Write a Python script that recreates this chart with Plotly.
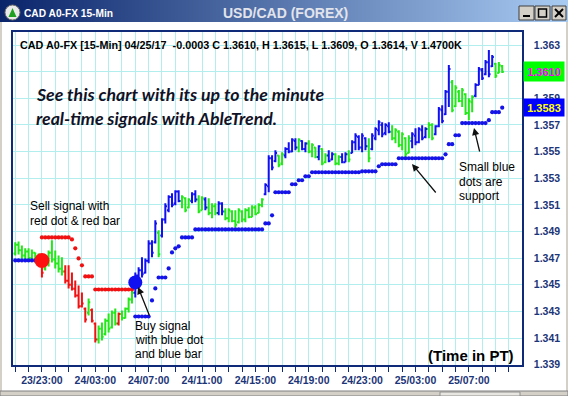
import plotly.graph_objects as go
import pandas as pd

# ---------------- data ----------------
FIRST_BAR = "2017-04-23 21:00"
BAR_MINUTES = 15
SYMBOL = "CAD A0-FX"
PERIOD = "15-Min"
PAIR_TITLE = "USD/CAD (FOREX)"
QUOTE_DATE = "04/25/17"
CHANGE = "-0.0003"
VOLUME = "1.4700K"
X_RANGE = ["2017-04-23 20:50", "2017-04-25 10:59"]
X_TICK0 = "2017-04-23 23:00"
Y_RANGE = [1.33898, 1.36398]
Y_TICK0 = 1.339
Y_TICK_STEP = 0.002
Y_HIDDEN_LABELS = [1.361]   # covered by the last-price box in the original

# signal colour of every bar: G = green, R = red (sell), B = blue (buy)
COLOR_CODE = ("GGGGGGGG" "R" "GGGGGG" "RRRRRRR" "G" "RR" "GGGGGG" "R" "GGGG"
              "BBBBBBB" "G" "BBBBBB" "GGG" "BB" "GG" "B" "GGG" "BB" "GGGGGGGGGGGG"
              "BBBB" "GG" "BBBB" "G" "BB" "GGG" "B" "GG" "BB" "GG" "BB" "G" "BBBBB" "G"
              "BBBBBB" "GGGGGG" "BBBBB" "GG" "BBBBB" "GGGGGGG" "BBBBBB" "GGG")

OPEN = [1.34735, 1.34800, 1.34760, 1.34720, 1.34750, 1.34700, 1.34740, 1.34690, 1.34700, 1.34620,
        1.34700, 1.34740, 1.34690, 1.34660, 1.34620, 1.34600, 1.34530, 1.34500, 1.34470, 1.34420,
        1.34340, 1.34320, 1.34290, 1.34310, 1.34210, 1.34090, 1.34170, 1.34130, 1.34230, 1.34180,
        1.34290, 1.34210, 1.34280, 1.34250, 1.34320, 1.34390, 1.34440, 1.34570, 1.34610, 1.34590,
        1.34680, 1.34810, 1.34820, 1.34890, 1.34870, 1.34990, 1.35060, 1.35160, 1.35110, 1.35200,
        1.35130, 1.35150, 1.35080, 1.35130, 1.35180, 1.35140, 1.35060, 1.35140, 1.35080, 1.35040,
        1.35090, 1.35040, 1.35110, 1.35050, 1.35000, 1.35050, 1.34980, 1.34970, 1.35050, 1.34990,
        1.35060, 1.35010, 1.35080, 1.35040, 1.35100, 1.35180, 1.35240, 1.35450, 1.35430, 1.35470,
        1.35410, 1.35470, 1.35520, 1.35500, 1.35580, 1.35530, 1.35580, 1.35520, 1.35560, 1.35500,
        1.35530, 1.35460, 1.35520, 1.35420, 1.35470, 1.35440, 1.35480, 1.35410, 1.35460, 1.35420,
        1.35480, 1.35490, 1.35570, 1.35610, 1.35530, 1.35600, 1.35540, 1.35520, 1.35600, 1.35660,
        1.35700, 1.35640, 1.35690, 1.35650, 1.35600, 1.35650, 1.35550, 1.35600, 1.35490, 1.35580,
        1.35620, 1.35570, 1.35660, 1.35610, 1.35670, 1.35700, 1.35630, 1.35690, 1.35810, 1.35780,
        1.35950, 1.36020, 1.35840, 1.35950, 1.35880, 1.35930, 1.35790, 1.35870, 1.35920, 1.36000,
        1.36110, 1.36080, 1.36170, 1.36140, 1.36160, 1.36090, 1.36140]

HIGH = [1.34819, 1.34826, 1.34796, 1.34774, 1.34774, 1.34766, 1.34743, 1.34736, 1.34706, 1.34728,
        1.34758, 1.34834, 1.34758, 1.34721, 1.34706, 1.34646, 1.34646, 1.34593, 1.34533, 1.34495,
        1.34443, 1.34330, 1.34397, 1.34322, 1.34217, 1.34194, 1.34217, 1.34247, 1.34285, 1.34307,
        1.34322, 1.34292, 1.34307, 1.34330, 1.34405, 1.34458, 1.34593, 1.34631, 1.34706, 1.34698,
        1.34834, 1.34834, 1.34984, 1.34909, 1.34999, 1.35112, 1.35172, 1.35187, 1.35210, 1.35210,
        1.35172, 1.35157, 1.35149, 1.35195, 1.35210, 1.35172, 1.35164, 1.35157, 1.35149, 1.35112,
        1.35112, 1.35127, 1.35119, 1.35074, 1.35074, 1.35059, 1.35059, 1.35074, 1.35059, 1.35074,
        1.35082, 1.35097, 1.35097, 1.35112, 1.35149, 1.35262, 1.35473, 1.35473, 1.35510, 1.35473,
        1.35495, 1.35533, 1.35571, 1.35601, 1.35601, 1.35601, 1.35586, 1.35571, 1.35586, 1.35563,
        1.35533, 1.35548, 1.35525, 1.35488, 1.35510, 1.35495, 1.35488, 1.35473, 1.35488, 1.35495,
        1.35510, 1.35586, 1.35638, 1.35623, 1.35638, 1.35608, 1.35601, 1.35638, 1.35683, 1.35736,
        1.35721, 1.35713, 1.35721, 1.35698, 1.35676, 1.35661, 1.35646, 1.35608, 1.35623, 1.35646,
        1.35676, 1.35683, 1.35698, 1.35683, 1.35721, 1.35713, 1.35698, 1.35834, 1.35849, 1.35962,
        1.36150, 1.36037, 1.35999, 1.35962, 1.35977, 1.35939, 1.35901, 1.35924, 1.36014, 1.36135,
        1.36127, 1.36187, 1.36262, 1.36225, 1.36165, 1.36172, 1.36150]

LOW = [1.34721, 1.34728, 1.34698, 1.34676, 1.34683, 1.34683, 1.34668, 1.34668, 1.34555, 1.34608,
       1.34638, 1.34668, 1.34623, 1.34593, 1.34570, 1.34510, 1.34473, 1.34458, 1.34405, 1.34322,
       1.34330, 1.34217, 1.34270, 1.34217, 1.34067, 1.34059, 1.34082, 1.34119, 1.34142, 1.34172,
       1.34194, 1.34194, 1.34232, 1.34247, 1.34292, 1.34360, 1.34405, 1.34548, 1.34555, 1.34585,
       1.34661, 1.34706, 1.34811, 1.34706, 1.34856, 1.34961, 1.35044, 1.35082, 1.35097, 1.35119,
       1.35074, 1.35044, 1.35074, 1.35112, 1.35119, 1.35037, 1.35059, 1.35059, 1.35022, 1.34999,
       1.35022, 1.35022, 1.35022, 1.34984, 1.34969, 1.34969, 1.34931, 1.34961, 1.34969, 1.34969,
       1.34999, 1.35007, 1.35022, 1.35037, 1.35082, 1.35172, 1.35195, 1.35360, 1.35420, 1.35383,
       1.35398, 1.35450, 1.35488, 1.35495, 1.35510, 1.35495, 1.35510, 1.35495, 1.35488, 1.35458,
       1.35450, 1.35435, 1.35398, 1.35413, 1.35420, 1.35435, 1.35398, 1.35398, 1.35413, 1.35420,
       1.35420, 1.35488, 1.35510, 1.35510, 1.35495, 1.35510, 1.35420, 1.35510, 1.35586, 1.35623,
       1.35608, 1.35623, 1.35638, 1.35586, 1.35563, 1.35533, 1.35510, 1.35458, 1.35488, 1.35525,
       1.35548, 1.35563, 1.35586, 1.35601, 1.35601, 1.35586, 1.35623, 1.35683, 1.35713, 1.35774,
       1.35834, 1.35796, 1.35834, 1.35871, 1.35834, 1.35774, 1.35736, 1.35796, 1.35909, 1.35999,
       1.36037, 1.36074, 1.36059, 1.36135, 1.36052, 1.36089, 1.36090]

CLOSE = [1.34800, 1.34760, 1.34720, 1.34750, 1.34700, 1.34740, 1.34690, 1.34720, 1.34590, 1.34700,
         1.34740, 1.34690, 1.34660, 1.34620, 1.34600, 1.34530, 1.34500, 1.34470, 1.34420, 1.34340,
         1.34360, 1.34240, 1.34370, 1.34230, 1.34090, 1.34170, 1.34110, 1.34230, 1.34170, 1.34290,
         1.34210, 1.34280, 1.34250, 1.34320, 1.34390, 1.34440, 1.34570, 1.34610, 1.34580, 1.34680,
         1.34810, 1.34740, 1.34960, 1.34730, 1.34990, 1.35090, 1.35160, 1.35100, 1.35200, 1.35130,
         1.35160, 1.35060, 1.35140, 1.35180, 1.35140, 1.35050, 1.35150, 1.35080, 1.35040, 1.35090,
         1.35040, 1.35110, 1.35050, 1.35000, 1.35060, 1.34980, 1.34950, 1.35060, 1.34990, 1.35060,
         1.35010, 1.35080, 1.35030, 1.35100, 1.35140, 1.35250, 1.35450, 1.35380, 1.35490, 1.35400,
         1.35480, 1.35520, 1.35500, 1.35590, 1.35530, 1.35590, 1.35520, 1.35560, 1.35500, 1.35550,
         1.35460, 1.35540, 1.35410, 1.35470, 1.35430, 1.35480, 1.35410, 1.35460, 1.35420, 1.35480,
         1.35440, 1.35570, 1.35620, 1.35530, 1.35620, 1.35540, 1.35450, 1.35620, 1.35670, 1.35720,
         1.35630, 1.35700, 1.35650, 1.35600, 1.35660, 1.35550, 1.35630, 1.35480, 1.35600, 1.35630,
         1.35570, 1.35670, 1.35600, 1.35670, 1.35700, 1.35600, 1.35690, 1.35820, 1.35730, 1.35950,
         1.36120, 1.35810, 1.35980, 1.35880, 1.35960, 1.35790, 1.35880, 1.35910, 1.36000, 1.36120,
         1.36050, 1.36170, 1.36080, 1.36210, 1.36070, 1.36150, 1.36100]

# AbleTrend support dots (blue), one per bar, None where there is none
SUPPORT = [1.34683, 1.34683, 1.34683, 1.34683, 1.34683, 1.34683, 1.34683, 1.34683,
           None, None, None, None, None, None, None, None, None, None, None, None, None, None,
           None, None, None, None, None, None, None, None, None, None, None, None, None, None,
           1.34262, 1.34262, 1.34262, 1.34262, 1.34262, 1.34383, 1.34473, 1.34555, 1.34555, 1.34555,
           1.34623, 1.34743, 1.34774, 1.34789, 1.34856, 1.34856, 1.34856, 1.34856,
           1.34916, 1.34916, 1.34916, 1.34916, 1.34916, 1.34916, 1.34916, 1.34916, 1.34916, 1.34916,
           1.34916, 1.34916, 1.34916, 1.34916, 1.34916, 1.34916, 1.34916, 1.34916, 1.34916, 1.34916,
           1.34916, 1.34961, 1.34961, 1.35022, 1.35195, 1.35195, 1.35195, 1.35195, 1.35195,
           1.35255, 1.35255, 1.35285, 1.35285, 1.35315, 1.35315,
           1.35345, 1.35345, 1.35345, 1.35345, 1.35345, 1.35345, 1.35345, 1.35345, 1.35345, 1.35345,
           1.35345, 1.35345, 1.35345, 1.35345, 1.35345, 1.35352, 1.35352, 1.35352, 1.35352, 1.35352,
           1.35390, 1.35405, 1.35405, 1.35405, 1.35405, 1.35405,
           1.35450, 1.35450, 1.35450, 1.35450, 1.35450, 1.35450, 1.35450, 1.35450, 1.35450, 1.35450,
           1.35450, 1.35450, 1.35450, 1.35450, 1.35480, 1.35556, 1.35556, 1.35623, 1.35623,
           1.35714, 1.35714, 1.35714, 1.35714, 1.35714, 1.35714, 1.35714, 1.35714,
           1.35736, 1.35796, 1.35796, 1.35796, 1.35830]

# AbleTrend resistance dots (red), bars 8 .. 35
RESIST_FIRST_BAR = 8
RESISTANCE = [1.34856, 1.34856, 1.34856, 1.34856, 1.34856, 1.34856, 1.34856, 1.34856, 1.34856,
              1.34841, 1.34774, 1.34698, 1.34646, 1.34563, 1.34563, 1.34563,
              1.34465, 1.34465, 1.34465, 1.34465, 1.34465, 1.34465, 1.34465, 1.34465,
              1.34465, 1.34465, 1.34465, 1.34465]

SELL_BAR, SELL_PRICE = 8, 1.34683
BUY_BAR, BUY_PRICE = 36, 1.34518

assert len(COLOR_CODE) == len(OPEN) == len(HIGH) == len(LOW) == len(CLOSE) == len(SUPPORT)

# ---------------- styling ----------------
W, H = 568, 396
NAVY = "#0f2a78"
AXIS_TXT = "#1c3578"
GRID = "#b2eeee"
BAR_COLORS = {"G": "#22e81a", "R": "#f01212", "B": "#1010f0"}
DOT_BLUE = "#1414e8"
DOT_RED = "#f01212"
UI_FONT = "Arial, 'Liberation Sans', sans-serif"


def px(x):
    return x / W


def py(y):
    return 1 - y / H


times = pd.date_range(FIRST_BAR, periods=len(CLOSE), freq=f"{BAR_MINUTES}min")

fig = go.Figure()

# title-bar gradient (separate hidden axes)
fig.add_trace(go.Heatmap(z=[[0, 1]], x=[0, 1], y=[0], xaxis="x2", yaxis="y2",
                         colorscale=[[0, "#0a246a"], [1, "#a8cbf2"]], zsmooth="best",
                         showscale=False, hoverinfo="skip"))

for code, col in BAR_COLORS.items():
    idx = [i for i, c in enumerate(COLOR_CODE) if c == code]
    fig.add_trace(go.Ohlc(
        x=times[idx],
        open=[OPEN[i] for i in idx], high=[HIGH[i] for i in idx],
        low=[LOW[i] for i in idx], close=[CLOSE[i] for i in idx],
        increasing=dict(line=dict(color=col, width=2)),
        decreasing=dict(line=dict(color=col, width=2)),
        tickwidth=0.5, hoverinfo="skip", showlegend=False))

fig.add_trace(go.Scatter(x=times, y=SUPPORT, mode="markers",
                         marker=dict(color=DOT_BLUE, size=4.2), hoverinfo="skip", showlegend=False))
res_x = times[RESIST_FIRST_BAR:RESIST_FIRST_BAR + len(RESISTANCE)]
fig.add_trace(go.Scatter(x=res_x, y=RESISTANCE, mode="markers",
                         marker=dict(color=DOT_RED, size=4.2), hoverinfo="skip", showlegend=False))
fig.add_trace(go.Scatter(x=[times[SELL_BAR]], y=[SELL_PRICE], mode="markers",
                         marker=dict(color="#ff1010", size=15), hoverinfo="skip", showlegend=False))
fig.add_trace(go.Scatter(x=[times[BUY_BAR]], y=[BUY_PRICE], mode="markers",
                         marker=dict(color="#1010f0", size=14), hoverinfo="skip", showlegend=False))

shapes = []
# window frame pieces
shapes.append(dict(type="rect", xref="paper", yref="paper", x0=0, x1=px(2), y0=0, y1=py(22),
                   fillcolor="#d4d0c8", line_width=0, layer="below"))
shapes.append(dict(type="rect", xref="paper", yref="paper", x0=px(566), x1=1, y0=0, y1=py(22),
                   fillcolor="#d4d0c8", line_width=0, layer="below"))
shapes.append(dict(type="rect", xref="paper", yref="paper", x0=0, x1=1, y0=0, y1=py(391),
                   fillcolor="#d4d0c8", line=dict(color="#808080", width=1), layer="below"))
shapes.append(dict(type="rect", xref="paper", yref="paper", x0=px(440), x1=px(520), y0=0, y1=py(392),
                   fillcolor="#e8e6e0", line=dict(color="#909090", width=1), layer="below"))
# title-bar buttons
for (a, b) in [(519, 534), (535, 550), (552, 566)]:
    shapes.append(dict(type="rect", xref="paper", yref="paper", x0=px(a), x1=px(b), y0=py(20), y1=py(6),
                       fillcolor="#d4d0c8", line=dict(color="#404040", width=1)))
shapes.append(dict(type="line", xref="paper", yref="paper", x0=px(523), x1=px(530), y0=py(16), y1=py(16),
                   line=dict(color="black", width=2)))
shapes.append(dict(type="rect", xref="paper", yref="paper", x0=px(538.5), x1=px(546.5), y0=py(17), y1=py(9),
                   line=dict(color="black", width=1.5)))
shapes.append(dict(type="line", xref="paper", yref="paper", x0=px(555), x1=px(563), y0=py(9), y1=py(17),
                   line=dict(color="black", width=2)))
shapes.append(dict(type="line", xref="paper", yref="paper", x0=px(555), x1=px(563), y0=py(17), y1=py(9),
                   line=dict(color="black", width=2)))
# app icon
shapes.append(dict(type="circle", xref="paper", yref="paper", x0=px(5), x1=px(20), y0=py(20), y1=py(5),
                   fillcolor="#eaeaea", line=dict(color="#707070", width=1)))
shapes.append(dict(type="path", xref="paper", yref="paper",
                   path=f"M {px(8.5)},{py(17)} L {px(12.5)},{py(8)} L {px(16.5)},{py(17)} Z",
                   fillcolor="#20a020", line_width=0))

ann = []


def text(x, y, s, size=12, color="black", anchor="left", family=UI_FONT, weight=None):
    ann.append(dict(xref="paper", yref="paper", x=px(x), y=py(y), text=s, showarrow=False,
                    xanchor=anchor, yanchor="middle",
                    font=dict(family=family, size=size, color=color, weight=weight)))


text(22, 13, f"{SYMBOL} {PERIOD}", size=10.2, color="white", weight="bold")
text(285, 13, PAIR_TITLE, size=14, color="#e2e4ec", anchor="center", weight="bold")
header = (f"{SYMBOL} [{PERIOD}] {QUOTE_DATE}  {CHANGE} C {CLOSE[-1]:.4f}, H {HIGH[-1]:.4f}, "
          f"L {LOW[-1]:.4f}, O {OPEN[-1]:.4f}, V {VOLUME}")
text(18, 45, header, size=10.8, weight="bold")
banner_font = "Lato, 'Open Sans', sans-serif"
text(34, 95, "<i>See this chart with its up to the minute</i>", size=17.7, color="#121226",
     family=banner_font, weight="bold")
text(34, 118, "<i>real-time signals with AbleTrend.</i>", size=17.7, color="#121226",
     family=banner_font, weight="bold")
text(28, 206, "Sell signal with", size=12)
text(28, 221, "red dot &amp; red bar", size=12)
text(133, 326, "Buy signal", size=12)
text(133, 340, "with blue dot", size=12)
text(133, 354, "and blue bar", size=12)
text(457, 167, "Small blue", size=12)
text(457, 182, "dots are", size=12)
text(457, 196, "support", size=12)
text(516, 355, "(Time in PT)", size=15, anchor="right", weight="bold")


def arrow(hx, hy, tx, ty):
    ann.append(dict(xref="paper", yref="paper", x=px(hx), y=py(hy), ax=tx - hx, ay=ty - hy,
                    text="", showarrow=True, arrowhead=2, arrowsize=1.1, arrowwidth=1.3,
                    arrowcolor="#101010", standoff=0, startstandoff=0))


arrow(138, 287, 150, 317)
arrow(412, 164, 437, 194)
arrow(474, 128, 480, 153)

# current-price / current-support value boxes on the price scale
ann.append(dict(xref="paper", yref="y", x=px(523), y=CLOSE[-1], xanchor="left", yanchor="middle",
                text=f"<b>{CLOSE[-1]:.4f}</b>", showarrow=False, bgcolor="#00ff00",
                width=38, height=17, borderpad=1,
                font=dict(family=UI_FONT, size=11, color="#ff00ff")))
ann.append(dict(xref="paper", yref="y", x=px(523), y=SUPPORT[-1], xanchor="left", yanchor="middle",
                text=f"<b>{SUPPORT[-1]:.4f}</b>", showarrow=False, bgcolor="#0000ff",
                width=38, height=15, borderpad=1,
                font=dict(family=UI_FONT, size=11, color="#ffff00")))

tickfont = dict(family=UI_FONT, size=10.5, color=AXIS_TXT, weight="bold")

# y tick values / labels (one label hidden behind the price box, as in the original)
n_y = int(round((Y_RANGE[1] - Y_TICK0) / Y_TICK_STEP)) + 1
y_vals = [round(Y_TICK0 + k * Y_TICK_STEP, 3) for k in range(n_y) if Y_TICK0 + k * Y_TICK_STEP <= Y_RANGE[1]]
y_text = ["" if v in Y_HIDDEN_LABELS else f"{v:.3f}" for v in y_vals]

fig.update_layout(
    width=W, height=H, margin=dict(l=0, r=0, t=0, b=0),
    paper_bgcolor="white", plot_bgcolor="white", showlegend=False,
    hovermode=False,
    xaxis=dict(domain=[px(13), px(522)], type="date", range=X_RANGE,
               tick0=X_TICK0, dtick=4 * 3600 * 1000, tickformat="%d/%H:%M",
               ticks="outside", ticklen=5, tickcolor=NAVY, tickwidth=1,
               showgrid=True, gridcolor=GRID, gridwidth=1,
               minor=dict(tick0=X_TICK0, dtick=3600 * 1000, ticks="outside", ticklen=5,
                          tickcolor=NAVY, tickwidth=1, showgrid=True, gridcolor=GRID, gridwidth=1),
               showline=True, linecolor=NAVY, linewidth=1.5, mirror=True,
               zeroline=False, rangeslider=dict(visible=False), tickfont=tickfont,
               automargin=False, fixedrange=True),
    yaxis=dict(domain=[py(365), py(32)], range=Y_RANGE, side="right",
               tickmode="array", tickvals=y_vals, ticktext=y_text, ticks="",
               ticklabelstandoff=8,
               showgrid=True, gridcolor=GRID, gridwidth=1,
               showline=True, linecolor=NAVY, linewidth=1.5, mirror=True,
               zeroline=False, tickfont=tickfont, automargin=False, fixedrange=True),
    xaxis2=dict(domain=[0, 1], range=[0, 1], visible=False, anchor="y2", fixedrange=True),
    yaxis2=dict(domain=[py(22), 1], range=[-0.5, 0.5], visible=False, anchor="x2", fixedrange=True),
    shapes=shapes, annotations=ann,
)

fig.write_html("out.html", include_plotlyjs=True, config={"displayModeBar": False})
